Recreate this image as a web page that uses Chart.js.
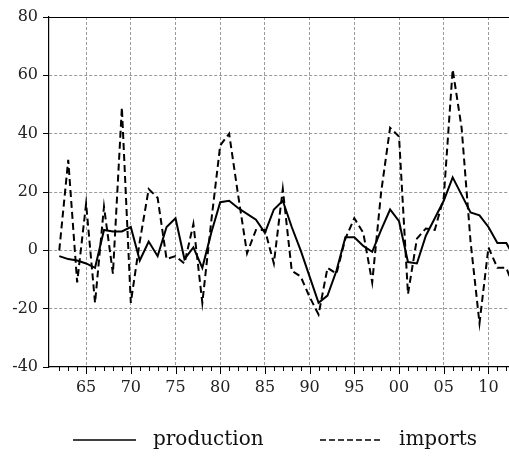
<!DOCTYPE html>
<html>
<head>
<meta charset="utf-8">
<script src="https://cdn.jsdelivr.net/npm/chart.js@4.4.1/dist/chart.umd.min.js"></script>
<style>
  body { margin: 0; background: #fff; }
  canvas { display: block; }
</style>
</head>
<body>
<canvas id="myChart" width="509" height="457"></canvas>
<script>
const years = [1962,1963,1964,1965,1966,1967,1968,1969,1970,1971,1972,1973,1974,1975,1976,1977,1978,1979,1980,1981,
  1982,1983,1984,1985,1986,1987,1988,1989,1990,1991,1992,1993,1994,1995,1996,1997,1998,1999,2000,2001,
  2002,2003,2004,2005,2006,2007,2008,2009,2010,2011,2012,2013];
const production = [-2,-3,-3.5,-4.5,-6,7,6.5,6.5,8,-3.5,3,-2,8,11,-3,1,-6,6,16.5,17,
  14.5,12.5,10.5,6,14,17,8,0,-9,-18,-15.5,-7,4.5,4.5,1.5,-0.5,7,14,10,-4,
  -4.5,5,11,17,25,19,13,12,8,2.5,2.5,-3];
const imports = [0,31,-11,16,-18,15,-8,49,-18,3,21,18,-3,-2,-4.5,9,-18,10,36,40,
  19,-1,7,7,-4.5,21,-7,-9,-16,-22,-6,-8,4,11,6,-11,20,42,39,-15,
  4,7.5,7,18,62,42,3,-25,1,-6,-6,-14];
const tickYears = years.filter(y => y <= 2012);
const yTicks = [-40,-20,0,20,40,60,80];

document.addEventListener("DOMContentLoaded", () => {
  const font = "'DejaVu Serif'";

  // frame, small ticks and the legend under the plot
  const extras = {
    id: 'extras',
    afterDraw: (chart) => {
      const ctx = chart.ctx;
      const area = chart.chartArea;
      const x = chart.scales.x;
      ctx.save();
      ctx.strokeStyle = '#000';
      ctx.lineWidth = 1.2;
      ctx.beginPath();
      ctx.moveTo(area.left, area.top + 0.5);
      ctx.lineTo(area.right, area.top + 0.5);
      ctx.stroke();

      ctx.lineWidth = 1;
      tickYears.forEach(yr => {
        const px = Math.round(x.getPixelForValue(yr)) + 0.5;
        const len = yr % 5 === 0 ? 7 : 4;
        ctx.beginPath();
        ctx.moveTo(px, area.bottom);
        ctx.lineTo(px, area.bottom + len);
        ctx.stroke();
      });

      const ly = 440;
      ctx.lineWidth = 1.5;
      ctx.beginPath();
      ctx.moveTo(73, ly);
      ctx.lineTo(136, ly);
      ctx.stroke();
      ctx.setLineDash([6, 3]);
      ctx.beginPath();
      ctx.moveTo(320, ly);
      ctx.lineTo(383, ly);
      ctx.stroke();
      ctx.setLineDash([]);

      ctx.fillStyle = '#111';
      ctx.font = "20px " + font;
      ctx.textBaseline = 'middle';
      ctx.textAlign = 'left';
      ctx.fillText(chart.data.datasets[0].label, 153, ly);
      ctx.fillText(chart.data.datasets[1].label, 399, ly);
      ctx.restore();
    }
  };

  const ctx = document.getElementById('myChart').getContext('2d');
  new Chart(ctx, {
    type: 'line',
    data: {
      datasets: [{
        label: 'production',
        data: years.map((yr, i) => ({ x: yr, y: production[i] })),
        borderColor: '#000',
        borderWidth: 2,
        pointRadius: 0,
        tension: 0
      }, {
        label: 'imports',
        data: years.map((yr, i) => ({ x: yr, y: imports[i] })),
        borderColor: '#000',
        borderWidth: 2,
        borderDash: [7, 4],
        pointRadius: 0,
        tension: 0
      }]
    },
    options: {
      responsive: false,
      animation: false,
      layout: { padding: { top: 17, right: 0, bottom: 0, left: 0 } },
      plugins: { legend: { display: false }, tooltip: { enabled: false } },
      scales: {
        x: {
          type: 'linear',
          min: 1960.85,
          max: 2012.3,
          afterBuildTicks: (scale) => { scale.ticks = tickYears.map(v => ({ value: v })); },
          afterFit: (scale) => {
            scale.height = 90;
            scale.paddingRight = 0;
            scale.paddingLeft = 0;
          },
          ticks: {
            autoSkip: false,
            maxRotation: 0,
            padding: 11,
            color: '#222',
            font: { family: font, size: 16 },
            callback: (v) => v % 5 === 0 ? String(v).slice(2) : ''
          },
          grid: {
            drawTicks: false,
            color: (c) => c.tick && c.tick.value % 5 === 0 ? '#9a9a9a' : 'rgba(0,0,0,0)',
            lineWidth: 1
          },
          border: { display: true, color: '#000', width: 1.2, dash: [3, 2] }
        },
        y: {
          min: -40,
          max: 80,
          afterBuildTicks: (scale) => { scale.ticks = yTicks.map(v => ({ value: v })); },
          afterFit: (scale) => { scale.width = 49; },
          ticks: {
            padding: 5,
            color: '#222',
            font: { family: font, size: 16 }
          },
          grid: {
            drawTicks: true,
            tickLength: 6,
            tickColor: '#000',
            color: (c) => c.tick && (c.tick.value === 80 || c.tick.value === -40) ? 'rgba(0,0,0,0)' : '#9a9a9a',
            lineWidth: 1
          },
          border: { display: true, color: '#000', width: 1.2, dash: [3, 2] }
        }
      }
    },
    plugins: [extras]
  });
});
</script>
</body>
</html>
